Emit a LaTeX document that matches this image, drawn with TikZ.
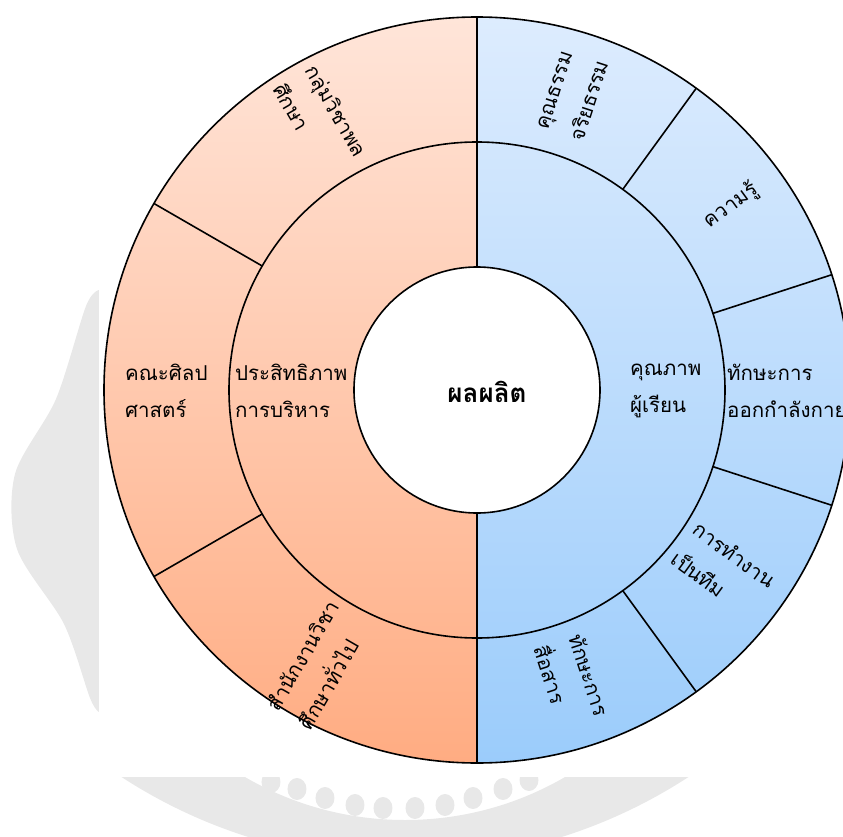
\documentclass[tikz,border=0pt]{standalone}
\usepackage{fontspec}
\newfontfamily\thaifont[Script=Thai]{Loma}
\definecolor{orL}{RGB}{255,229,217}
\definecolor{orD}{RGB}{255,172,130}
\definecolor{blL}{RGB}{221,236,254}
\definecolor{blD}{RGB}{155,204,251}
\definecolor{wm}{RGB}{232,232,232}
\begin{document}
\begin{tikzpicture}[x=1pt,y=1pt,
  seg/.style={line width=1.6pt, draw=black},
  lab/.style={font=\thaifont\fontsize{20.5}{37}\selectfont, align=left, inner sep=0pt, text=black},
  ctr/.style={font=\thaifont\bfseries\fontsize{26}{30}\selectfont, inner sep=0pt}
]
\useasboundingbox (-477,-446) rectangle (366,390);
\clip (-477,-446) rectangle (366,390);
% faint watermark (image coordinates)
\begin{scope}[shift={(-477,390)}, yscale=-1]
  \fill[wm] plot[smooth] coordinates {(99,290) (86,306) (56,399) (15,474) (17,549) (64,624) (90,698) (99,712)} -- cycle;
  \begin{scope}
    \clip (0,777) rectangle (843,836);
    \fill[wm, even odd rule] (405,341) circle (520) (405,501) circle (319);
    \foreach \x/\y in {271/782,297/789,325/798,355/805,383/808,415/808,445/805,473/798,503/789,529/780}
      \fill[wm] (\x,\y) ellipse (9.5 and 11);
  \end{scope}
  \fill[white] (99,0) rectangle (843,777);
\end{scope}
% sunburst fills
\shade[top color=orL, bottom color=orD] (0,0) -- (90:373) arc[start angle=90, end angle=270, radius=373] -- cycle;
\shade[top color=blL, bottom color=blD] (0,0) -- (90:373) arc[start angle=90, end angle=-90, radius=373] -- cycle;
% borders
\draw[seg] (0,0) circle (373);
\draw[seg] (0,0) circle (248);
\draw[seg] (0,123) -- (0,373);
\draw[seg] (0,-123) -- (0,-373);
\foreach \a in {150,210,54,18,-18,-54} \draw[seg] (\a:248) -- (\a:373);
\node[circle, seg, fill=white, minimum size=246pt, inner sep=0pt] (hub) at (0,0) {};
\node[ctr] (output) at (10,-2) {ผลผลิต};
% inner ring
\node[lab, anchor=west] (eff) at (-242,-1) {ประสิทธิภาพ\\การบริหาร};
\node[lab, anchor=west] (qual) at (153,-1) {คุณภาพ\\ผู้เรียน};
% outer ring
\node[lab, anchor=west] (arts) at (-352,-1) {คณะศิลป\\ศาสตร์};
\node[lab, anchor=west] (exer) at (250,-1) {ทักษะการ\\ออกกำลังกาย};
\node[lab, rotate=-60] (pe) at (120:312) {กลุ่มวิชาพล\\ศึกษา};
\node[lab, rotate=72] (moral) at (72:310) {คุณธรรม\\จริยธรรม};
\node[lab, rotate=36] (know) at (36:314) {ความรู้};
\node[lab, rotate=-36] (team) at (-36:305) {การทำงาน\\เป็นทีม};
\node[lab, rotate=-72] (comm) at (-72:306) {ทักษะการ\\สื่อสาร};
\node[lab, rotate=60] (gened) at (240:317) {สำนักงานวิชา\\ศึกษาทั่วไป};
\end{tikzpicture}
\end{document}
